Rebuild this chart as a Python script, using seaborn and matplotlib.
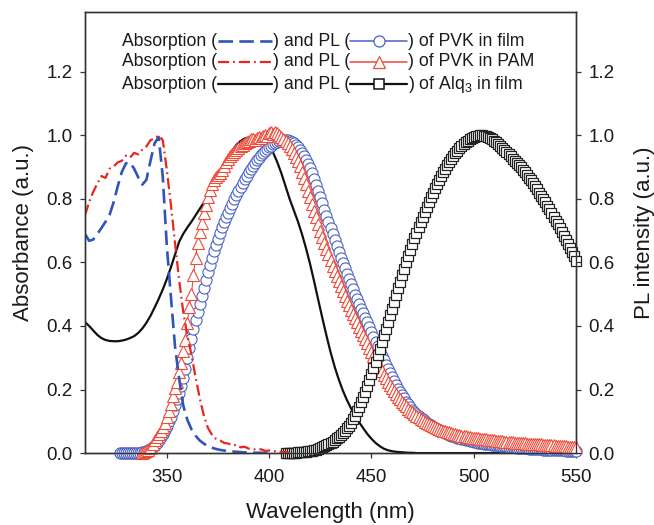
import numpy as np
import pandas as pd
import matplotlib
matplotlib.use("Agg")
import matplotlib.pyplot as plt
import seaborn as sns
from matplotlib.lines import Line2D
from matplotlib.offsetbox import TextArea, DrawingArea, HPacker, VPacker, AnchoredOffsetbox
from matplotlib.ticker import FormatStrFormatter

# ---- absorption spectra (2 nm steps) ----
abs_pvk_film_start = 310
abs_pvk_film = [
    0.690, 0.668, 0.672, 0.690, 0.708, 0.728, 0.750, 0.790, 0.840, 0.885,   # 310-328
    0.912, 0.915, 0.895, 0.868, 0.845, 0.860, 0.920, 0.975, 0.995, 0.870,   # 330-348
    0.650, 0.490, 0.335, 0.235, 0.150, 0.105, 0.075, 0.055, 0.040, 0.030,   # 350-368
    0.022, 0.017, 0.013, 0.010, 0.008, 0.006, 0.005, 0.004, 0.003, 0.002,   # 370-388
    0.002, 0.001, 0.001, 0.001, 0.000, 0.000,                               # 390-400
]

abs_pvk_pam_start = 310
abs_pvk_pam = [
    0.748, 0.790, 0.822, 0.848, 0.872, 0.866, 0.895, 0.902, 0.915, 0.920,   # 310-328
    0.936, 0.930, 0.945, 0.940, 0.955, 0.965, 0.985, 0.990, 1.000, 0.985,   # 330-348
    0.890, 0.780, 0.660, 0.545, 0.445, 0.370, 0.310, 0.240, 0.175, 0.120,   # 350-368
    0.080, 0.058, 0.045, 0.040, 0.032, 0.030, 0.024, 0.026, 0.018, 0.020,   # 370-388
    0.014, 0.013, 0.010, 0.012, 0.007, 0.008, 0.005, 0.007, 0.003, 0.004,   # 390-408
    0.000,                                                                  # 410
]

abs_alq3_start = 310
abs_alq3 = [
    0.412, 0.400, 0.386, 0.372, 0.362, 0.356, 0.353, 0.352, 0.352, 0.354,   # 310-328
    0.357, 0.362, 0.368, 0.378, 0.392, 0.410, 0.432, 0.458, 0.485, 0.515,   # 330-348
    0.548, 0.585, 0.625, 0.665, 0.690, 0.710, 0.728, 0.748, 0.768, 0.788,   # 350-368
    0.808, 0.828, 0.850, 0.875, 0.902, 0.928, 0.952, 0.970, 0.982, 0.990,   # 370-388
    0.993, 0.993, 0.990, 0.984, 0.975, 0.962, 0.945, 0.915, 0.880, 0.840,   # 390-408
    0.800, 0.765, 0.730, 0.690, 0.645, 0.595, 0.540, 0.482, 0.425, 0.370,   # 410-428
    0.318, 0.272, 0.232, 0.197, 0.167, 0.141, 0.118, 0.097, 0.078, 0.060,   # 430-448
    0.045, 0.032, 0.022, 0.014, 0.009, 0.006, 0.004, 0.003, 0.002, 0.001,   # 450-468
    0.001, 0.000, 0.000, 0.000, 0.000, 0.000, 0.000, 0.000, 0.000, 0.000,   # 470-488
    0.000, 0.000, 0.000, 0.000, 0.000, 0.000, 0.000, 0.000, 0.000, 0.000,   # 490-508
    0.000, 0.000, 0.000, 0.000, 0.000, 0.000,                               # 510-520
]
abs_step = 2

# ---- photoluminescence spectra (1 nm steps) ----
pl_pvk_film_start = 327
pl_pvk_film = [
    0.000, 0.000, 0.000,                                                    # 327-329
    0.000, 0.000, 0.000, 0.000, 0.000, 0.000, 0.000, 0.000, 0.002, 0.004,   # 330
    0.007, 0.010, 0.014, 0.018, 0.024, 0.031, 0.040, 0.050, 0.061, 0.073,   # 340
    0.086, 0.100, 0.115, 0.132, 0.150, 0.169, 0.190, 0.212, 0.236, 0.265,   # 350
    0.300, 0.330, 0.360, 0.390, 0.420, 0.445, 0.470, 0.495, 0.520, 0.545,   # 360
    0.570, 0.593, 0.615, 0.636, 0.656, 0.675, 0.693, 0.710, 0.726, 0.742,   # 370
    0.757, 0.771, 0.785, 0.799, 0.813, 0.826, 0.839, 0.851, 0.862, 0.873,   # 380
    0.884, 0.894, 0.903, 0.912, 0.921, 0.929, 0.937, 0.944, 0.951, 0.957,   # 390
    0.963, 0.968, 0.973, 0.977, 0.980, 0.983, 0.985, 0.986, 0.986, 0.985,   # 400
    0.983, 0.979, 0.975, 0.969, 0.962, 0.954, 0.945, 0.935, 0.923, 0.910,   # 410
    0.896, 0.880, 0.863, 0.845, 0.826, 0.806, 0.786, 0.766, 0.746, 0.727,   # 420
    0.709, 0.690, 0.672, 0.653, 0.634, 0.615, 0.598, 0.581, 0.564, 0.547,   # 430
    0.531, 0.515, 0.499, 0.484, 0.470, 0.455, 0.440, 0.425, 0.411, 0.396,   # 440
    0.381, 0.366, 0.351, 0.336, 0.321, 0.306, 0.292, 0.278, 0.264, 0.251,   # 450
    0.238, 0.226, 0.214, 0.203, 0.192, 0.182, 0.172, 0.162, 0.153, 0.145,   # 460
    0.137, 0.130, 0.123, 0.117, 0.111, 0.106, 0.101, 0.096, 0.091, 0.087,   # 470
    0.083, 0.079, 0.075, 0.072, 0.069, 0.066, 0.063, 0.060, 0.058, 0.055,   # 480
    0.053, 0.051, 0.049, 0.047, 0.045, 0.043, 0.041, 0.040, 0.038, 0.037,   # 490
    0.035, 0.034, 0.033, 0.032, 0.031, 0.030, 0.029, 0.028, 0.027, 0.026,   # 500
    0.025, 0.024, 0.024, 0.023, 0.022, 0.021, 0.021, 0.020, 0.019, 0.019,   # 510
    0.018, 0.017, 0.017, 0.016, 0.016, 0.015, 0.015, 0.014, 0.014, 0.013,   # 520
    0.013, 0.012, 0.012, 0.012, 0.011, 0.011, 0.011, 0.010, 0.010, 0.010,   # 530
    0.010, 0.009, 0.009, 0.009, 0.009, 0.008, 0.008, 0.008, 0.008, 0.008,   # 540
    0.008,                                                                  # 550
]

pl_pvk_pam_start = 338
pl_pvk_pam = [
    0.000, 0.002,                                                           # 338-339
    0.005, 0.010, 0.017, 0.027, 0.040, 0.050, 0.060, 0.070, 0.082, 0.096,   # 340
    0.113, 0.132, 0.155, 0.180, 0.205, 0.225, 0.255, 0.285, 0.320, 0.355,   # 350
    0.410, 0.460, 0.500, 0.560, 0.615, 0.660, 0.695, 0.725, 0.755, 0.782,   # 360
    0.806, 0.827, 0.846, 0.860, 0.870, 0.875, 0.880, 0.892, 0.905, 0.916,   # 370
    0.926, 0.934, 0.941, 0.948, 0.955, 0.961, 0.966, 0.971, 0.975, 0.980,   # 380
    0.983, 0.987, 0.990, 0.985, 0.993, 0.996, 0.991, 0.999, 1.002, 0.998,   # 390
    1.006, 1.010, 1.004, 1.012, 1.008, 1.000, 0.995, 0.990, 0.983, 0.975,   # 400
    0.967, 0.957, 0.946, 0.933, 0.919, 0.904, 0.885, 0.866, 0.847, 0.826,   # 410
    0.805, 0.784, 0.763, 0.742, 0.721, 0.700, 0.681, 0.662, 0.643, 0.625,   # 420
    0.607, 0.590, 0.573, 0.557, 0.541, 0.525, 0.510, 0.495, 0.480, 0.465,   # 430
    0.451, 0.437, 0.424, 0.411, 0.397, 0.384, 0.371, 0.358, 0.345, 0.332,   # 440
    0.319, 0.306, 0.294, 0.282, 0.270, 0.258, 0.247, 0.236, 0.225, 0.215,   # 450
    0.205, 0.195, 0.186, 0.177, 0.169, 0.161, 0.154, 0.147, 0.140, 0.134,   # 460
    0.128, 0.122, 0.117, 0.112, 0.107, 0.103, 0.099, 0.095, 0.091, 0.088,   # 470
    0.085, 0.082, 0.079, 0.076, 0.074, 0.071, 0.069, 0.067, 0.065, 0.063,   # 480
    0.061, 0.060, 0.058, 0.057, 0.055, 0.054, 0.053, 0.052, 0.050, 0.049,   # 490
    0.048, 0.047, 0.046, 0.045, 0.045, 0.044, 0.043, 0.042, 0.041, 0.041,   # 500
    0.040, 0.039, 0.038, 0.038, 0.037, 0.036, 0.036, 0.035, 0.034, 0.034,   # 510
    0.033, 0.033, 0.032, 0.032, 0.031, 0.031, 0.030, 0.030, 0.029, 0.029,   # 520
    0.028, 0.028, 0.027, 0.027, 0.026, 0.026, 0.025, 0.025, 0.024, 0.024,   # 530
    0.023, 0.023, 0.022, 0.022, 0.021, 0.021, 0.020, 0.020, 0.019, 0.019,   # 540
    0.018,                                                                  # 550
]

pl_alq3_start = 408
pl_alq3 = [
    0.000, 0.000,                                                           # 408-409
    0.000, 0.001, 0.001, 0.001, 0.002, 0.002, 0.003, 0.003, 0.004, 0.005,   # 410
    0.006, 0.007, 0.009, 0.011, 0.013, 0.015, 0.018, 0.021, 0.024, 0.028,   # 420
    0.032, 0.036, 0.041, 0.046, 0.052, 0.058, 0.064, 0.071, 0.078, 0.086,   # 430
    0.095, 0.106, 0.118, 0.131, 0.145, 0.160, 0.176, 0.193, 0.211, 0.229,   # 440
    0.248, 0.268, 0.288, 0.308, 0.329, 0.350, 0.371, 0.392, 0.413, 0.434,   # 450
    0.455, 0.476, 0.497, 0.518, 0.539, 0.560, 0.580, 0.600, 0.620, 0.639,   # 460
    0.658, 0.676, 0.694, 0.711, 0.728, 0.744, 0.760, 0.776, 0.791, 0.806,   # 470
    0.820, 0.834, 0.847, 0.860, 0.872, 0.884, 0.895, 0.906, 0.916, 0.926,   # 480
    0.935, 0.944, 0.952, 0.959, 0.966, 0.972, 0.978, 0.983, 0.987, 0.991,   # 490
    0.994, 0.997, 0.999, 1.000, 1.000, 0.999, 0.997, 0.994, 0.991, 0.987,   # 500
    0.983, 0.978, 0.973, 0.967, 0.961, 0.955, 0.948, 0.941, 0.934, 0.927,   # 510
    0.920, 0.913, 0.906, 0.899, 0.892, 0.884, 0.876, 0.867, 0.858, 0.849,   # 520
    0.840, 0.830, 0.820, 0.810, 0.800, 0.790, 0.779, 0.768, 0.756, 0.744,   # 530
    0.732, 0.720, 0.708, 0.696, 0.684, 0.671, 0.658, 0.645, 0.632, 0.619,   # 540
    0.606,                                                                  # 550
]
pl_step = 1

x_ticks = [350, 400, 450, 500, 550]
y_ticks = [0.0, 0.2, 0.4, 0.6, 0.8, 1.0, 1.2]

legend_rows = [
    ("Absorption (", ") and PL (", ") of PVK in film"),
    ("Absorption (", ") and PL (", ") of PVK in PAM"),
    ("Absorption (", ") and PL (", ") of Alq$_3$ in film"),
]

BLUE = "#2f55b8"
BLUE_M = "#4a62c2"
RED = "#e8261f"
RED_M = "#f04a38"
BLACK = "#111111"
TEXT = "#1a1a1a"

CIRCLE_SIZE = 8.0
TRIANGLE_SIZE = 8.2
SQUARE_SIZE = 6.8


def spectrum(start, values, step):
    wl = start + step * np.arange(len(values))
    return pd.DataFrame({"wavelength": wl, "value": values})


sns.set_style("ticks")
plt.rcParams["font.family"] = ["Liberation Sans", "DejaVu Sans"]
plt.rcParams["mathtext.fontset"] = "custom"
plt.rcParams["mathtext.rm"] = "Liberation Sans"
plt.rcParams["mathtext.it"] = "Liberation Sans:italic"

fig = plt.figure(figsize=(6.54, 5.25), dpi=100)
ax = fig.add_axes([0.130, 0.137, 0.7508, 0.840])

# absorption of Alq3 (under the PL markers)
d = spectrum(abs_alq3_start, abs_alq3, abs_step)
sns.lineplot(data=d, x="wavelength", y="value", ax=ax, color=BLACK, lw=1.6,
             errorbar=None, zorder=2)

# PL spectra
d = spectrum(pl_pvk_film_start, pl_pvk_film, pl_step)
sns.lineplot(data=d, x="wavelength", y="value", ax=ax, color=BLUE_M, lw=0.8,
             marker="o", markersize=CIRCLE_SIZE, markerfacecolor="white",
             markeredgecolor=BLUE_M, markeredgewidth=0.8,
             errorbar=None, zorder=3, clip_on=False)

d = spectrum(pl_pvk_pam_start, pl_pvk_pam, pl_step)
sns.lineplot(data=d, x="wavelength", y="value", ax=ax, color=RED_M, lw=0.8,
             marker="^", markersize=TRIANGLE_SIZE, markerfacecolor="white",
             markeredgecolor=RED_M, markeredgewidth=0.8,
             errorbar=None, zorder=4, clip_on=False)

d = spectrum(pl_alq3_start, pl_alq3, pl_step)
sns.lineplot(data=d, x="wavelength", y="value", ax=ax, color=BLACK, lw=0.8,
             marker="s", markersize=SQUARE_SIZE, markerfacecolor="white",
             markeredgecolor="#222222", markeredgewidth=0.9,
             errorbar=None, zorder=5, clip_on=False)

# absorption of PVK (over the PL markers)
d = spectrum(abs_pvk_film_start, abs_pvk_film, abs_step)
sns.lineplot(data=d, x="wavelength", y="value", ax=ax, color=BLUE, lw=1.9,
             linestyle=(0, (5.5, 2.4)), errorbar=None, zorder=6)

d = spectrum(abs_pvk_pam_start, abs_pvk_pam, abs_step)
sns.lineplot(data=d, x="wavelength", y="value", ax=ax, color=RED, lw=1.6,
             linestyle=(0, (5.0, 1.8, 0.8, 1.8)), errorbar=None, zorder=6)

ax.set_xlim(310, 550)
ax.set_ylim(0, 1.388)
ax.set_xticks(x_ticks)
ax.set_yticks(y_ticks)
ax.yaxis.set_major_formatter(FormatStrFormatter("%.1f"))
ax.set_xlabel("Wavelength (nm)", fontsize=16, color=TEXT, labelpad=11)
ax.set_ylabel("Absorbance (a.u.)", fontsize=16, color=TEXT, labelpad=9)

ax2 = ax.twinx()
ax2.set_ylim(ax.get_ylim())
ax2.set_yticks(y_ticks)
ax2.yaxis.set_major_formatter(FormatStrFormatter("%.1f"))
ax2.set_ylabel("PL intensity (a.u.)", fontsize=16, color=TEXT, labelpad=14)

for a in (ax, ax2):
    for s in a.spines.values():
        s.set_linewidth(1.0)
        s.set_color("#333333")
    a.tick_params(direction="out", length=3.8, width=0.9, color="#333333",
                  labelsize=13.5, labelcolor=TEXT, pad=5)
ax.tick_params(axis="x", pad=8)
ax.tick_params(axis="y", right=False)
ax2.tick_params(axis="y", left=False)


# inline legend: text with line samples
def sample(seg_len, **kw):
    da = DrawingArea(seg_len, 10, 0, 0)
    da.add_artist(Line2D([0, seg_len], [5, 5], **kw))
    return da


def marker_sample(seg_len, **kw):
    da = DrawingArea(seg_len, 10, 0, 0)
    da.add_artist(Line2D([0, seg_len / 2, seg_len], [5, 5, 5], markevery=[1], **kw))
    return da


abs_samples = [
    sample(39, color=BLUE, lw=1.9, linestyle=(0, (5.5, 2.4))),
    sample(39, color=RED, lw=1.6, linestyle=(0, (5.0, 1.8, 0.8, 1.8))),
    sample(39, color=BLACK, lw=1.6),
]
pl_samples = [
    marker_sample(41, color=BLUE_M, lw=1.1, marker="o", markersize=CIRCLE_SIZE,
                  markerfacecolor="white", markeredgecolor=BLUE_M, markeredgewidth=0.9),
    marker_sample(41, color=RED_M, lw=1.1, marker="^", markersize=TRIANGLE_SIZE,
                  markerfacecolor="white", markeredgecolor=RED_M, markeredgewidth=0.9),
    marker_sample(41, color=BLACK, lw=1.6, marker="s", markersize=SQUARE_SIZE,
                  markerfacecolor="white", markeredgecolor=BLACK, markeredgewidth=1.1),
]

rows = []
tp = dict(fontsize=12.7, color=TEXT)
for (t1, t2, t3), sa, sp in zip(legend_rows, abs_samples, pl_samples):
    rows.append(HPacker(children=[TextArea(t1, textprops=tp), sa,
                                  TextArea(t2, textprops=tp), sp,
                                  TextArea(t3, textprops=tp)],
                        align="center", pad=0, sep=0.5))
box = VPacker(children=rows, align="left", pad=0, sep=2.5)
anchored = AnchoredOffsetbox(loc="upper left", child=box, pad=0, borderpad=0,
                             frameon=False, bbox_to_anchor=(0.075, 0.953),
                             bbox_transform=ax.transAxes)
ax.add_artist(anchored)

fig.savefig("out.png", dpi=100)
